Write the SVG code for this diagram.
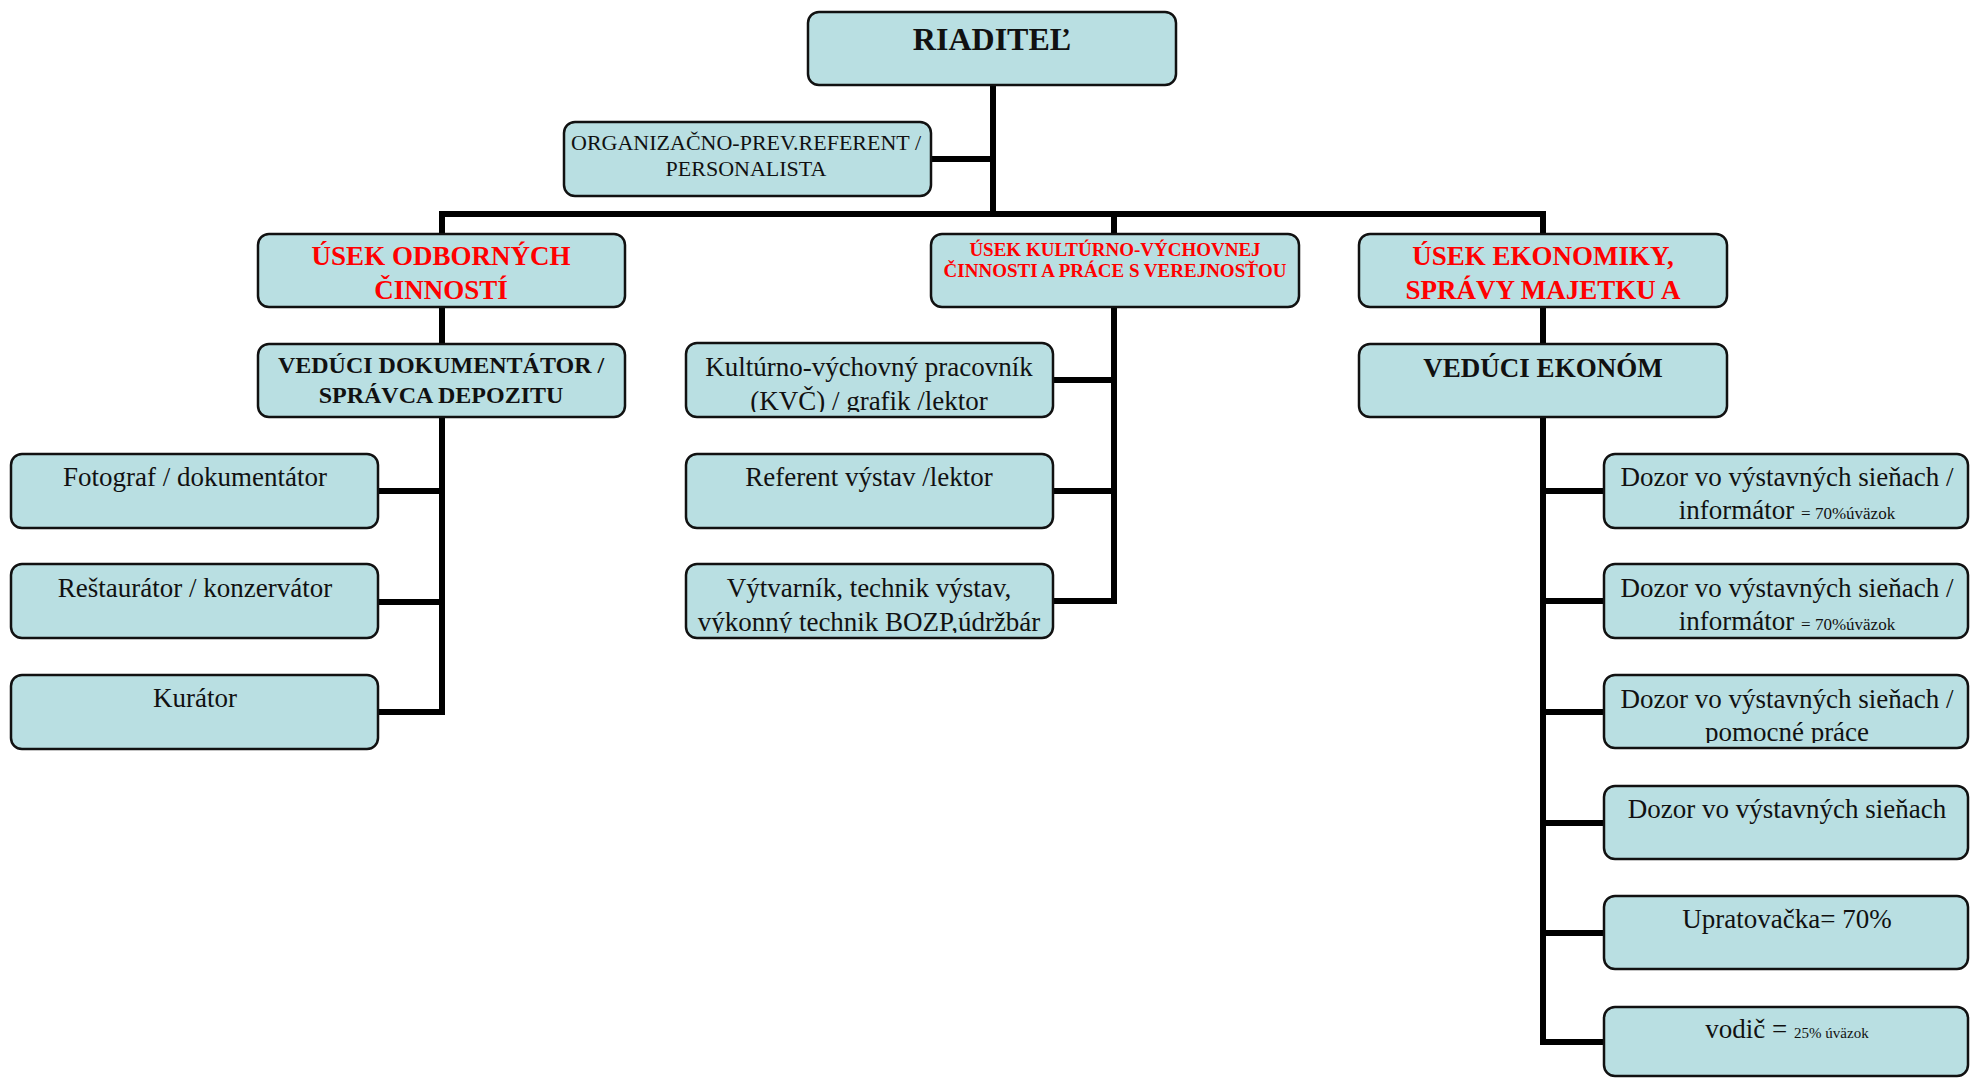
<svg xmlns="http://www.w3.org/2000/svg" width="1970" height="1078" viewBox="0 0 1970 1078">
<defs>
<style>
.box{fill:#b9dfe2;stroke:#111;stroke-width:2.5}
.t{font-family:"Liberation Serif","Times New Roman",serif;fill:#111;text-anchor:middle;font-size:27px}
.b{font-weight:bold}
.red{fill:#ff0000}
.s32{font-size:32px}
.s24{font-size:24px}
.s22{font-size:22px}
.s19{font-size:19px}
.s17{font-size:17px}
.s15{font-size:15px}
.con{fill:none;stroke:#000;stroke-width:6;stroke-linejoin:miter;stroke-linecap:butt}
</style>
<clipPath id="c-kvc"><rect x="687" y="344" width="365" height="68"/></clipPath>
<clipPath id="c-vyt"><rect x="687" y="565" width="365" height="68"/></clipPath>
<clipPath id="c-dz3"><rect x="1605" y="676" width="362" height="67"/></clipPath>
</defs>
<rect width="1970" height="1078" fill="#fff"/>

<g id="connectors">
<path class="con" d="M993 85V214"/>
<path class="con" d="M931 159H993"/>
<path class="con" d="M442 234V214H1543V234"/>
<path class="con" d="M1114 214V234"/>
<path class="con" d="M442 307V344"/>
<path class="con" d="M1543 307V344"/>
<path class="con" d="M442 417V715"/>
<path class="con" d="M378 491H442M378 602H442M378 712H442"/>
<path class="con" d="M1114 307V604"/>
<path class="con" d="M1053 380H1114M1053 491H1114M1053 601H1114"/>
<path class="con" d="M1543 417V1045"/>
<path class="con" d="M1543 491H1604M1543 601H1604M1543 712H1604M1543 823H1604M1543 933H1604M1543 1042H1604"/>
</g>

<g id="riaditel"><rect class="box" x="808" y="12" width="368" height="73" rx="11"/>
<text class="t b s32" x="992" y="50">RIADITEĽ</text></g>

<g id="org"><rect class="box" x="564" y="122" width="367" height="74" rx="11"/>
<text class="t s22" x="746" y="150">ORGANIZAČNO-PREV.REFERENT /</text>
<text class="t s22" x="746" y="176">PERSONALISTA</text></g>

<g id="usek-odb"><rect class="box" x="258" y="234" width="367" height="73" rx="11"/>
<text class="t b red" x="441" y="265">ÚSEK ODBORNÝCH</text>
<text class="t b red" x="441" y="299">ČINNOSTÍ</text></g>

<g id="usek-kult"><rect class="box" x="931" y="234" width="368" height="73" rx="11"/>
<text class="t b red s19" x="1115" y="256">ÚSEK KULTÚRNO-VÝCHOVNEJ</text>
<text class="t b red s19" x="1115" y="277">ČINNOSTI A PRÁCE S VEREJNOSŤOU</text></g>

<g id="usek-eko"><rect class="box" x="1359" y="234" width="368" height="73" rx="11"/>
<text class="t b red" x="1543" y="265">ÚSEK EKONOMIKY,</text>
<text class="t b red" x="1543" y="299">SPRÁVY MAJETKU A</text></g>

<g id="ved-dok"><rect class="box" x="258" y="344" width="367" height="73" rx="11"/>
<text class="t b s24" x="441" y="373">VEDÚCI DOKUMENTÁTOR /</text>
<text class="t b s24" x="441" y="403">SPRÁVCA DEPOZITU</text></g>

<g id="ved-eko"><rect class="box" x="1359" y="344" width="368" height="73" rx="11"/>
<text class="t b" x="1543" y="377">VEDÚCI EKONÓM</text></g>

<g id="fotograf"><rect class="box" x="11" y="454" width="367" height="74" rx="11"/>
<text class="t" x="195" y="486">Fotograf / dokumentátor</text></g>

<g id="restaurator"><rect class="box" x="11" y="564" width="367" height="74" rx="11"/>
<text class="t" x="195" y="597">Reštaurátor / konzervátor</text></g>

<g id="kurator"><rect class="box" x="11" y="675" width="367" height="74" rx="11"/>
<text class="t" x="195" y="707">Kurátor</text></g>

<g id="kvc"><rect class="box" x="686" y="343" width="367" height="74" rx="11"/>
<g clip-path="url(#c-kvc)">
<text class="t" x="869" y="376">Kultúrno-výchovný pracovník</text>
<text class="t" x="869" y="410">(KVČ) / grafik /lektor</text></g></g>

<g id="referent"><rect class="box" x="686" y="454" width="367" height="74" rx="11"/>
<text class="t" x="869" y="486">Referent výstav /lektor</text></g>

<g id="vytvarnik"><rect class="box" x="686" y="564" width="367" height="74" rx="11"/>
<g clip-path="url(#c-vyt)">
<text class="t" x="869" y="597">Výtvarník, technik výstav,</text>
<text class="t" x="869" y="631">výkonný technik BOZP,údržbár</text></g></g>

<g id="dozor1"><rect class="box" x="1604" y="454" width="364" height="74" rx="11"/>
<text class="t" x="1787" y="486">Dozor vo výstavných sieňach /</text>
<text class="t" x="1787" y="519">informátor <tspan class="s17">= 70%úväzok</tspan></text></g>

<g id="dozor2"><rect class="box" x="1604" y="564" width="364" height="74" rx="11"/>
<text class="t" x="1787" y="597">Dozor vo výstavných sieňach /</text>
<text class="t" x="1787" y="630">informátor <tspan class="s17">= 70%úväzok</tspan></text></g>

<g id="dozor3"><rect class="box" x="1604" y="675" width="364" height="73" rx="11"/>
<g clip-path="url(#c-dz3)">
<text class="t" x="1787" y="708">Dozor vo výstavných sieňach /</text>
<text class="t" x="1787" y="741">pomocné práce</text></g></g>

<g id="dozor4"><rect class="box" x="1604" y="786" width="364" height="73" rx="11"/>
<text class="t" x="1787" y="818">Dozor vo výstavných sieňach</text></g>

<g id="upratovacka"><rect class="box" x="1604" y="896" width="364" height="73" rx="11"/>
<text class="t" x="1787" y="928">Upratovačka= 70%</text></g>

<g id="vodic"><rect class="box" x="1604" y="1007" width="364" height="69" rx="11"/>
<text class="t" x="1787" y="1038">vodič =  <tspan class="s15">25% úväzok</tspan></text></g>
</svg>
